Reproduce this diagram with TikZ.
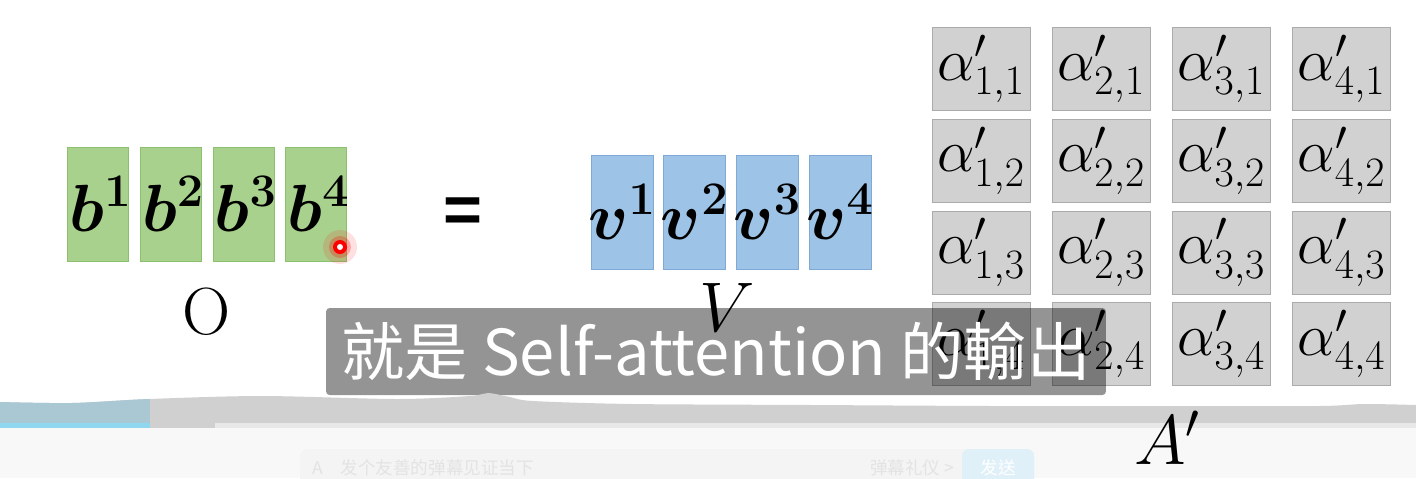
\documentclass[tikz,border=0pt]{standalone}
\usepackage{fix-cm}
\usepackage{amsmath,bm}
\usepackage{fontspec}
\usetikzlibrary{positioning}
\newfontfamily\cjk{Noto Sans CJK TC}
\newfontfamily\eqfont{Liberation Sans}
\definecolor{bFill}{HTML}{A9D18E}
\definecolor{bLine}{HTML}{8CBF6E}
\definecolor{vFill}{HTML}{9DC3E6}
\definecolor{vLine}{HTML}{7FAAD8}
\definecolor{aFill}{HTML}{D1D1D1}
\definecolor{aLine}{HTML}{ABABAB}
\definecolor{barGray}{HTML}{D0D0D0}
\definecolor{barBlue}{HTML}{A9C8D3}
\definecolor{progBlue}{HTML}{8FD6EF}
\definecolor{panel}{HTML}{F8F8F8}
\definecolor{sendBlue}{HTML}{DFF0F8}
\newcommand\vecname[1]{\makebox[0pt]{$\bm{#1}$}}

\begin{document}
\begin{tikzpicture}[x=0.02cm, y=-0.02cm, node distance=0.16cm and 0.43cm,
  every node/.style={font=\fontsize{38}{44}\selectfont},
  bbox/.style={draw=bLine, fill=bFill, minimum width=1.22cm, minimum height=2.28cm, inner sep=0pt},
  vbox/.style={draw=vLine, fill=vFill, minimum width=1.24cm, minimum height=2.28cm, inner sep=0pt},
  abox/.style={draw=aLine, fill=aFill, minimum width=1.96cm, minimum height=1.66cm, inner sep=0pt,
    font=\fontsize{34}{40}\selectfont},
  uitext/.style={font=\cjk\fontsize{10}{12}\selectfont, inner sep=0pt}]
\useasboundingbox[fill=white] (0,0) rectangle (1416,478);
\clip (0,0) rectangle (1416,478);
% output O
\node[bbox] (b1) at (98,204) {\hspace{0.1cm}\vecname{b^1}};
\node[bbox, right=0.22cm of b1] (b2) {\hspace{0.1cm}\vecname{b^2}};
\node[bbox, right=0.22cm of b2] (b3) {\hspace{0.1cm}\vecname{b^3}};
\node[bbox, right=0.22cm of b3] (b4) {\hspace{0.1cm}\vecname{b^4}};
\node (o) at (207,312) {O};
\node (eq) at (463,215) {\eqfont\bfseries =};
% values V
\node[vbox] (v1) at (622,212) {\vecname{v^1}};
\node[vbox, right=0.2cm of v1] (v2) {\vecname{v^2}};
\node[vbox, right=0.2cm of v2] (v3) {\vecname{v^3}};
\node[vbox, right=0.2cm of v3] (v4) {\vecname{v^4}};
\node[font=\fontsize{40}{46}\selectfont] (vlab) at (727,307) {$V$};
% attention A'
\node[abox] (a11) at (981,69) {$\alpha'_{1,1}$};
\node[abox, right=of a11] (a21) {$\alpha'_{2,1}$};
\node[abox, right=of a21] (a31) {$\alpha'_{3,1}$};
\node[abox, right=of a31] (a41) {$\alpha'_{4,1}$};
\node[abox, below=of a11] (a12) {$\alpha'_{1,2}$};
\node[abox, right=of a12] (a22) {$\alpha'_{2,2}$};
\node[abox, right=of a22] (a32) {$\alpha'_{3,2}$};
\node[abox, right=of a32] (a42) {$\alpha'_{4,2}$};
\node[abox, below=of a12] (a13) {$\alpha'_{1,3}$};
\node[abox, right=of a13] (a23) {$\alpha'_{2,3}$};
\node[abox, right=of a23] (a33) {$\alpha'_{3,3}$};
\node[abox, right=of a33] (a43) {$\alpha'_{4,3}$};
\node[abox, below=of a13] (a14) {$\alpha'_{1,4}$};
\node[abox, right=of a14] (a24) {$\alpha'_{2,4}$};
\node[abox, right=of a24] (a34) {$\alpha'_{3,4}$};
\node[abox, right=of a34] (a44) {$\alpha'_{4,4}$};
% pointer
\fill[red, opacity=0.12] (340,247) circle (0.34cm);
\fill[red, opacity=0.25] (340,247) circle (0.22cm);
\fill[red] (340,247) circle (0.14cm);
\fill[white] (340,247) circle (0.06cm);
% subtitle
\node[fill=black, fill opacity=0.42, text opacity=1, text=white, rounded corners=2pt,
  minimum width=15.6cm, minimum height=1.74cm, font=\cjk\fontsize{36}{40}\selectfont]
  (sub) at (716,351.5) {就是 Self-attention 的輸出};
% player bar
\begin{scope}
\clip plot[smooth] coordinates {(0,402) (72,403) (149,399) (262,396) (397,399) (470,396)
  (488,393) (510,397) (533,401) (632,404) (813,405) (994,406) (1174,406) (1319,406)
  (1364,404) (1416,405)} -- (1416,423) -- (0,423) -- cycle;
\fill[barGray] (0,380) rectangle (1416,423);
\fill[barBlue] (0,380) rectangle (150,423);
\end{scope}
\fill[progBlue] (0,423) rectangle (150,428);
\fill[barGray] (150,423) rectangle (215,428);
\fill[gray!18] (215,423) rectangle (1416,428);
\fill[panel] (0,428) rectangle (1416,478);
\fill[gray!9, rounded corners=4pt] (300,449) rectangle (1034,495);
\fill[sendBlue, rounded corners=4pt] (962,449) rectangle (1034,495);
\node[uitext, text=gray!22, anchor=west] (hint) at (312,468) {A\quad 发个友善的弹幕见证当下};
\node[uitext, text=gray!22] (rules) at (912,468) {弹幕礼仪 >};
\node[uitext, text=white] (send) at (998,468) {发送};
\node[font=\fontsize{40}{46}\selectfont] (alab) at (1167,438) {$A'$};
\end{tikzpicture}
\end{document}
